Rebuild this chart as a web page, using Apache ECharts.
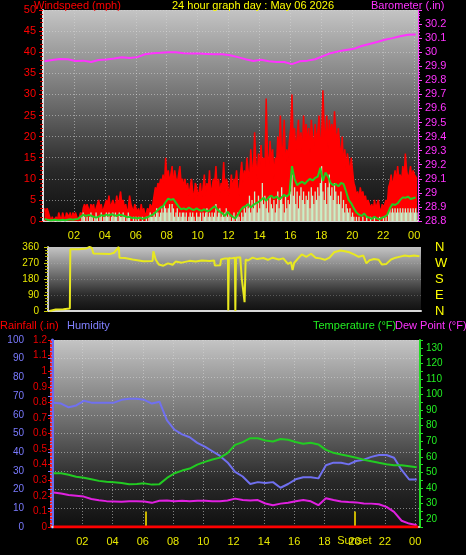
<!DOCTYPE html>
<html><head><meta charset="utf-8">
<script src="https://cdn.jsdelivr.net/npm/echarts@6/dist/echarts.min.js"></script>
<style>html,body{margin:0;padding:0;background:#000;}#c{width:466px;height:555px;}</style>
</head><body><div id="c"></div>
<script>
// ---------- DATA ----------
const titleText = '24 hour graph day : May 06 2026';
// wind samples every 5 minutes starting at 00:06
const windStart = 0.1, windStep = 1 / 12;
const gustValues = [
  3,2,3,2,1,0,1,0,0,1,0,2,
  1,0,2,1,0,2,2,1,2,0,2,1,
  2,1,0,1,2,1,3,4,3,4,3,2,
  4,3,4,2,3,4,5,3,4,2,3,4,
  5,4,6,3,4,5,4,3,6,4,5,7,
  4,5,3,4,2,3,6,4,3,2,4,3,
  2,3,1,4,2,3,1,2,3,2,4,3,
  4,6,8,7,9,8,10,9,11,8,15,10,
  12,9,11,13,8,12,10,9,11,13,9,10,
  8,10,7,9,6,8,10,7,5,9,8,6,
  7,9,5,8,11,6,9,7,12,6,8,10,
  9,13,7,10,6,9,8,14,7,10,9,6,
  8,11,7,10,9,12,8,6,11,14,9,12,
  10,15,12,9,17,13,11,21,14,10,16,12,
  18,13,15,11,29,16,12,19,14,17,10,15,
  13,20,16,25,14,18,24,12,17,15,19,22,
  30,18,22,16,20,24,17,21,15,25,19,23,
  18,22,16,24,20,17,23,19,21,25,18,20,
  31,22,19,25,17,24,20,23,18,26,21,19,
  22,18,15,20,13,17,12,16,14,11,15,12,
  9,8,6,7,5,8,6,7,5,6,4,5,
  5,3,4,2,5,3,4,5,3,2,4,3,
  3,5,4,8,9,11,8,10,12,9,13,10,
  11,9,13,10,16,12,10,11,13,10,12,11,
  11,10
];
const speedValues = [
  0,0,0,0,0,0,0,0,0,0,0,0,
  0,0,0,0,0,0,0,0,0,0,0,0,
  0,0,0,0,0,1,2,1,0,1,0,1,
  2,1,0,1,2,1,0,1,2,0,1,1,
  2,1,2,0,1,2,1,2,1,0,2,1,
  1,2,1,0,1,2,1,0,0,1,0,1,
  0,1,0,0,1,0,0,1,0,1,2,1,
  1,2,1,3,2,1,2,3,2,4,3,2,
  3,4,2,4,3,1,2,3,1,2,1,2,
  2,1,2,0,1,2,1,2,1,0,2,1,
  1,2,0,2,1,2,3,1,2,1,2,1,
  2,4,1,2,3,1,2,1,2,3,1,2,
  1,0,1,2,0,1,2,1,0,2,1,3,
  2,4,3,6,2,5,3,7,4,2,6,3,
  5,9,4,6,3,5,2,6,4,3,5,2,
  4,7,3,5,8,4,2,6,3,5,4,7,
  11,6,8,4,7,3,6,8,5,7,4,6,
  5,7,3,8,6,4,7,5,8,6,9,13,
  7,5,9,4,8,11,6,8,5,9,7,4,
  6,4,7,3,5,2,4,3,2,3,1,2,
  1,0,1,0,1,0,0,1,0,0,1,0,
  0,1,0,0,1,0,0,0,1,0,0,1,
  0,1,0,2,3,2,3,2,3,2,3,2,
  3,2,3,2,3,2,3,2,3,2,3,2,
  3,2
];
// average wind every 10 minutes
const avgStart = 0.1, avgStep = 1 / 6;
const avgValues = [
  0.5,0.3,0.2,0.2,0.3,0.2,
  0.2,0.3,0.2,0.3,0.4,0.3,
  0.4,0.5,1,1.5,1.2,1.4,
  1.3,1,0.8,1,1.4,1.2,
  1.5,1.3,1.6,1.4,1.2,1.5,
  1.4,1.2,0.9,1,0.7,0.8,
  0.6,0.8,0.5,0.7,0.9,1.2,
  1.5,2,2.6,3.2,3.5,4.5,
  5.3,5,5.2,4.3,3.4,2.8,
  3,2.7,3.2,2.8,2.6,3,
  2.6,2.4,2.8,2.3,2.5,3,
  3.5,2.8,2.2,1.8,1.2,2.2,
  1.5,1,0.6,1.5,2.5,3.2,
  3.5,4,3.2,3.8,4.2,4.5,
  5,5.5,4.8,5.6,6,5.4,
  5.8,5.2,5.6,6.2,5.8,6.4,
  13,10,8.5,9,9.3,8.8,
  9.5,10,9.6,10.2,10.5,12.6,
  9.5,11.5,10.5,9,8.5,8.8,
  8.2,9,8.8,7,5,4.2,
  3,2,1.5,1.2,1.8,1,
  0.8,0.5,1,0.6,0.4,0.8,
  1,1.5,3,4,3.8,4.2,
  5,5.6,5.5,5.8,5.2,5.4,
  5.6
];
// half-hourly readings starting at 00:06
const slowStart = 0.1, slowStep = 0.5;
const baroValues = [
  29.936,29.945,29.952,29.95,29.938,29.94,29.93,29.945,29.948,29.955,
  29.964,29.958,29.965,29.985,29.993,29.996,30.0,30.0,29.993,29.99,
  29.99,29.988,29.986,29.985,29.978,29.965,29.95,29.937,29.946,29.935,
  29.93,29.93,29.915,29.935,29.94,29.95,29.972,29.993,30.006,30.016,
  30.024,30.044,30.058,30.072,30.088,30.1,30.114,30.124,30.126
];
const humValues = [
  66.5,66,64,65,67.5,66.5,66.5,66.5,66.5,68,
  68.6,68.6,68,66,67,57,52,49.5,48,45,
  43,40.5,38,34.5,29.5,27,23,24,23.5,24,
  21,23,25.5,26.6,26.6,26,33,34.4,34.4,33.5,
  35.3,36,37.5,38.5,38.5,37,30.5,25.4,25.4
];
const tempValues = [
  49.5,49.5,48.5,47.3,46.6,45.6,44.6,44,43.7,43.2,
  42.4,42.6,43,42.2,42.5,46.5,49.5,51.2,52.5,55,
  56.8,58.3,59.5,62.4,67.7,69.5,72,72,70.5,69.9,
  71.5,71,69.5,68.4,69,68,64.5,62.6,61.5,60.5,
  59.5,58.2,57.2,56.2,55.3,54.6,54.6,54,53.3
];
const dewValues = [
  37.2,36.5,35.5,35,34.5,33,32.2,31.6,31.4,31.2,
  31.5,31.5,31.3,30.5,31.8,32,31.6,31.8,31.5,31.8,
  31.8,31.5,31.6,32,33.2,32.3,32,32.3,30.1,29,
  30,30.5,31.5,32.3,31.5,29,33.5,32.3,31.3,31,
  30.8,30.1,30,29.6,27.9,24.7,19,17.2,16.1
];
// wind direction (hour, degrees)
const dirTimes = [0.1,0.5,1.0,1.42,1.45,2.0,2.5,2.7,2.85,2.95,3.5,4.0,4.3,4.4,4.6,4.65,5.0,5.5,5.6,6.2,6.8,6.85,7.0,7.2,7.5,7.8,8.1,8.3,8.7,9.2,9.6,10.0,10.5,10.8,10.85,11.2,11.25,11.5,11.7,11.72,11.76,11.9,12.15,12.18,12.22,12.5,12.6,12.7,12.78,12.85,13.0,13.3,13.6,14.0,14.3,14.6,15.0,15.3,15.6,15.8,15.9,16.0,16.3,16.5,16.8,17.1,17.4,17.7,18.0,18.3,18.6,19.0,19.3,19.6,19.9,20.2,20.5,20.7,20.9,21.2,21.5,21.7,22.0,22.3,22.6,22.9,23.2,23.5,23.8,24.15];
const dirValues = [0,8,10,14,347,348,352,360,355,323,322,320,328,318,360,300,298,290,280,280,281,336,290,262,255,268,260,278,272,282,278,284,281,284,256,258,290,296,296,3,298,296,300,0,300,302,182,192,50,290,284,300,292,298,288,300,290,296,265,275,230,270,300,318,305,322,300,296,288,300,330,340,336,330,318,305,312,268,285,292,288,262,265,290,300,306,312,308,312,308];
const rainTimes = [0.1, 24.2];
const rainValues = [0, 0];
const sunEvents = [{name: '', hour: 6.22}, {name: 'Sunset', hour: 19.98}];
const compassLabels = {0: 'N', 90: 'E', 180: 'S', 270: 'W', 360: 'N'};

// ---------- HELPERS ----------
const series = (start, step, vals) => vals.map((v, i) => [start + i * step, v]);
const pairs = (ts, vs) => ts.map((t, i) => [t, vs[i]]);
function hourLabel(v) {
  if (v <= 0 || Math.abs(v - Math.round(v)) > 1e-6) return '';
  const h = Math.round(v) % 24;
  return (h < 10 ? '0' : '') + h;
}
const FONT = 'Liberation Sans, Arial, sans-serif';
const YEL = '#e8e800';
function grad(stops) {
  return {type: 'linear', x: 0, y: 0, x2: 0, y2: 1,
    colorStops: stops.map(s => ({offset: s[0], color: s[1]}))};
}
const panelBg = grad([[0, '#c4c4c4'], [0.45, '#6a6a6a'], [0.75, '#2a2a2a'], [1, '#101010']]);
const dotted = {show: true, lineStyle: {color: 'rgba(215,215,215,0.55)', type: [1, 2], width: 1}};
const tStyle = c => ({color: c, fontSize: 11, fontWeight: 'normal', fontFamily: FONT});
const ttl = (text, left, top, color) => ({text, left, top, padding: 0, textStyle: tStyle(color)});

function xAx(grid, labels) {
  return {
    type: 'value', gridIndex: grid, min: 0, max: 24.25, interval: 2,
    axisLine: {show: true, onZero: false, lineStyle: {color: '#d8d8d8', width: 2}},
    axisTick: {show: false},
    axisLabel: {show: labels, color: YEL, fontSize: 11, fontFamily: FONT, margin: 9,
      formatter: hourLabel, showMaxLabel: true, showMinLabel: false},
    splitLine: grid === 1 ? {show: false} : dotted
  };
}

const chart = echarts.init(document.getElementById('c'), null, {renderer: 'canvas'});
chart.setOption({
  backgroundColor: '#000',
  animation: false,
  title: [
    ttl('Windspeed (mph)', 34, 0, '#ff0000'),
    ttl(titleText, 172, 0, '#ffff00'),
    ttl('Barometer (.in)', 371, 0, '#ff33ff'),
    ttl('Rainfall (.in)', 0, 320, '#ff0000'),
    ttl('Humidity', 67, 320, '#8080ff'),
    ttl('Temperature (°F)', 313, 320, '#22ee22'),
    ttl('Dew Point (°F)', 395, 320, '#ff33ff')
  ],
  grid: [
    {left: 43, top: 10, width: 375, height: 211, show: true, backgroundColor: panelBg, borderWidth: 0},
    {left: 48, top: 247, width: 373, height: 64, show: true, backgroundColor: panelBg, borderWidth: 0},
    {left: 52, top: 340, width: 367, height: 187, show: true, backgroundColor: panelBg, borderWidth: 0}
  ],
  xAxis: [xAx(0, true), xAx(1, false), xAx(2, true)],
  yAxis: [
    { // 0 wind
      type: 'value', gridIndex: 0, position: 'left', min: 0, max: 50, interval: 5,
      axisLine: {show: true, lineStyle: {color: '#e0e0e0', width: 2}},
      axisTick: {show: true, length: 4, lineStyle: {color: '#ff0000'}},
      minorTick: {show: true, splitNumber: 5, length: 3, lineStyle: {color: '#cc0000'}},
      axisLabel: {color: '#ff0000', fontSize: 11, fontFamily: FONT, margin: 7},
      splitLine: dotted
    },
    { // 1 barometer
      type: 'value', gridIndex: 0, position: 'right', min: 28.8, max: 30.3, interval: 0.1,
      axisLine: {show: true, lineStyle: {color: '#ff44ff', width: 1}},
      axisTick: {show: true, length: 4, lineStyle: {color: '#ff44ff'}},
      minorTick: {show: true, splitNumber: 5, length: 2, lineStyle: {color: '#ff44ff'}},
      axisLabel: {color: '#ff33ff', fontSize: 11, fontFamily: FONT, margin: 7,
        formatter: v => v > 30.25 ? '' : String(parseFloat(v.toFixed(1)))},
      splitLine: {show: false}
    },
    { // 2 direction
      type: 'value', gridIndex: 1, position: 'left', min: 0, max: 360, interval: 90,
      axisLine: {show: true, lineStyle: {color: '#d0d0d0', width: 2}},
      axisTick: {show: true, length: 4, lineStyle: {color: '#c8c800'}},
      minorTick: {show: true, splitNumber: 5, length: 3, lineStyle: {color: '#b0b000'}},
      axisLabel: {color: YEL, fontSize: 10, fontFamily: FONT, margin: 9},
      splitLine: {show: true, lineStyle: {color: 'rgba(200,200,200,0.3)', type: [1, 2]}}
    },
    { // 3 compass
      type: 'value', gridIndex: 1, position: 'right', min: 0, max: 360, interval: 90,
      axisLine: {show: false}, axisTick: {show: false}, splitLine: {show: false},
      axisLabel: {color: '#ffff00', fontSize: 13, fontFamily: FONT, margin: 14,
        formatter: v => compassLabels[v] || ''}
    },
    { // 4 humidity
      type: 'value', gridIndex: 2, position: 'left', offset: 22, min: 0, max: 100, interval: 10,
      axisLine: {show: true, lineStyle: {color: '#6a6aee', width: 3}},
      axisTick: {show: true, length: 4, lineStyle: {color: '#7a7aff'}},
      minorTick: {show: true, splitNumber: 5, length: 2, lineStyle: {color: '#7a7aff'}},
      axisLabel: {color: '#7a7aff', fontSize: 10, fontFamily: FONT, margin: 6},
      splitLine: dotted
    },
    { // 5 rain
      type: 'value', gridIndex: 2, position: 'left', offset: 1, min: 0, max: 1.2, interval: 0.1,
      axisLine: {show: true, lineStyle: {color: '#ff2020', width: 2, type: [2, 2]}},
      axisTick: {show: true, length: 3, lineStyle: {color: '#ff0000'}},
      axisLabel: {color: '#ee0000', fontSize: 10, fontFamily: FONT, margin: 4,
        formatter: v => String(parseFloat(v.toFixed(1)))},
      splitLine: {show: false}
    },
    { // 6 temperature
      type: 'value', gridIndex: 2, position: 'right', offset: 1, min: 15, max: 135, interval: 5,
      axisLine: {show: true, lineStyle: {color: '#22dd22', width: 2}},
      axisTick: {show: true, length: 3, lineStyle: {color: '#22dd22'}},
      axisLabel: {color: '#22ee22', fontSize: 10, fontFamily: FONT, margin: 6,
        formatter: v => (Math.round(v) % 10 === 0 ? String(Math.round(v)) : '')},
      splitLine: {show: false}
    }
  ],
  series: [
    {name: 'Gust', type: 'line', xAxisIndex: 0, yAxisIndex: 0, symbol: 'none',
      lineStyle: {color: '#ff0000', width: 1.5}, areaStyle: {color: '#ff0000', opacity: 1},
      data: series(windStart, windStep, gustValues), z: 2},
    {name: 'Speed', type: 'bar', xAxisIndex: 0, yAxisIndex: 0, barWidth: 1.3, barGap: '-100%',
      itemStyle: {color: '#c8f0c8'}, data: series(windStart, windStep, speedValues), z: 3},
    {name: 'Average', type: 'line', xAxisIndex: 0, yAxisIndex: 0, symbol: 'none',
      lineStyle: {color: '#22cc22', width: 2}, data: series(avgStart, avgStep, avgValues), z: 4},
    {name: 'Barometer', type: 'line', xAxisIndex: 0, yAxisIndex: 1, symbol: 'none',
      lineStyle: {color: '#ff33ff', width: 2}, data: series(slowStart, slowStep, baroValues), z: 4},
    {name: 'Direction', type: 'line', xAxisIndex: 1, yAxisIndex: 2, symbol: 'none',
      lineStyle: {color: '#e8e820', width: 2}, data: pairs(dirTimes, dirValues)},
    {name: 'Humidity', type: 'line', xAxisIndex: 2, yAxisIndex: 4, symbol: 'none',
      lineStyle: {color: '#7070f0', width: 2}, data: series(slowStart, slowStep, humValues)},
    {name: 'Temperature', type: 'line', xAxisIndex: 2, yAxisIndex: 6, symbol: 'none',
      lineStyle: {color: '#22cc22', width: 2}, data: series(slowStart, slowStep, tempValues)},
    {name: 'Dew Point', type: 'line', xAxisIndex: 2, yAxisIndex: 6, symbol: 'none',
      lineStyle: {color: '#e020e0', width: 2}, data: series(slowStart, slowStep, dewValues)},
    {name: 'Rainfall', type: 'line', xAxisIndex: 2, yAxisIndex: 5, symbol: 'none',
      lineStyle: {color: '#ff0000', width: 3}, data: pairs(rainTimes, rainValues), z: 5,
      markLine: {
        silent: true, symbol: 'none', animation: false,
        lineStyle: {color: '#c8b400', width: 2, type: 'solid'},
        label: {show: true, position: 'start', formatter: '{b}', color: YEL, fontSize: 11, fontFamily: FONT, distance: 8},
        data: sunEvents.map(e => [{name: e.name, coord: [e.hour, 0]}, {coord: [e.hour, 0.1]}])
      }}
  ]
});
</script></body></html>
